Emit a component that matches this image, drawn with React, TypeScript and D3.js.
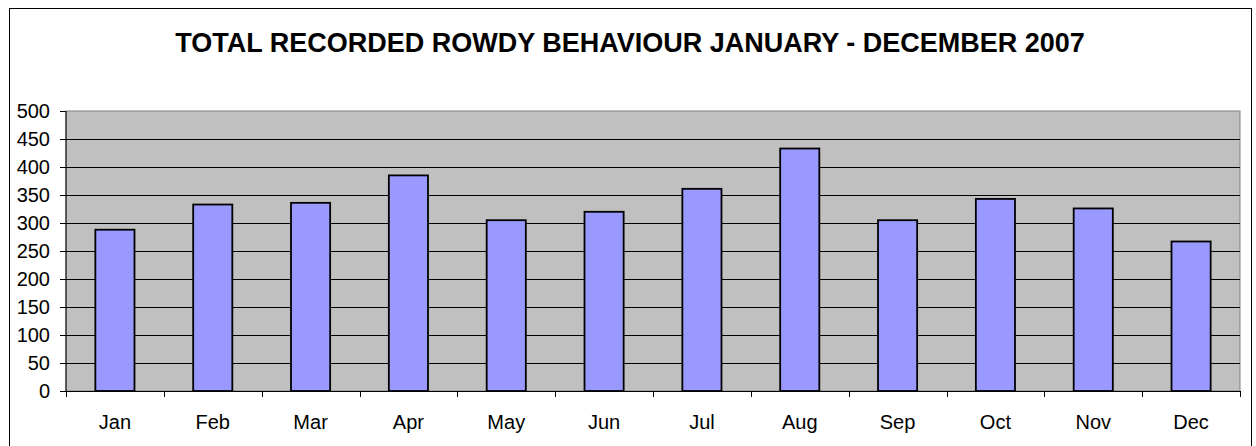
import React from "react";
import * as d3 from "d3";

const months = ["Jan", "Feb", "Mar", "Apr", "May", "Jun", "Jul", "Aug", "Sep", "Oct", "Nov", "Dec"];
const values = [288, 333, 336, 385, 305, 320, 361, 433, 305, 343, 326, 267];
const yTicks = [0, 50, 100, 150, 200, 250, 300, 350, 400, 450, 500];
const title = "TOTAL RECORDED ROWDY BEHAVIOUR JANUARY - DECEMBER 2007";

export default function App() {
  const W = 1256, H = 446;
  const left = 66, right = 1240, top = 111, bottom = 391;
  const x = d3.scaleBand<string>().domain(months).range([left, right]).paddingInner(0).paddingOuter(0);
  const y = d3.scaleLinear().domain([0, 500]).range([bottom, top]);
  const bw = x.bandwidth() / 2.5;
  const font = "Arial, 'Liberation Sans', sans-serif";
  const boundaries = months.map((m) => x(m) as number).concat([right]);

  return (
    <svg width={W} height={H} style={{ position: "absolute", left: 0, top: 0 }} fontFamily={font}>
      <rect x={0} y={0} width={W} height={H} fill="#fff" />
      <rect x={9.5} y={8.5} width={1242} height={460} fill="#fff" stroke="#000" strokeWidth={1} />
      <text x={630} y={51.5} textAnchor="middle" fontSize={27} fontWeight="bold" fill="#000">
        {title}
      </text>
      <rect x={left} y={top} width={right - left} height={bottom - top} fill="#C0C0C0" stroke="#808080" strokeWidth={1} />
      {yTicks.slice(1, -1).map((t) => (
        <line key={"g" + t} x1={left} x2={right} y1={Math.round(y(t)) + 0.5} y2={Math.round(y(t)) + 0.5} stroke="#000" strokeWidth={1} />
      ))}
      {months.map((m, i) => {
        const cx = (x(m) as number) + x.bandwidth() / 2;
        return (
          <rect
            key={m}
            x={cx - bw / 2}
            y={y(values[i])}
            width={bw}
            height={bottom - y(values[i])}
            fill="#9999FF"
            stroke="#000"
            strokeWidth={1.8}
          />
        );
      })}
      <line x1={left} x2={left} y1={top} y2={bottom} stroke="#000" strokeWidth={1} />
      <line x1={left} x2={right} y1={bottom + 0.5} y2={bottom + 0.5} stroke="#000" strokeWidth={1} />
      {yTicks.map((t) => (
        <g key={"yt" + t}>
          <line x1={left - 6} x2={left} y1={Math.round(y(t)) + 0.5} y2={Math.round(y(t)) + 0.5} stroke="#000" strokeWidth={1} />
          <text x={50} y={y(t)} dy="0.36em" textAnchor="end" fontSize={20} fill="#000">
            {t}
          </text>
        </g>
      ))}
      {boundaries.map((b, i) => (
        <line key={"xt" + i} x1={Math.round(b) + 0.5} x2={Math.round(b) + 0.5} y1={bottom} y2={bottom + 6} stroke="#000" strokeWidth={1} />
      ))}
      {months.map((m) => (
        <text key={"xl" + m} x={(x(m) as number) + x.bandwidth() / 2} y={429} textAnchor="middle" fontSize={20} fill="#000">
          {m}
        </text>
      ))}
    </svg>
  );
}
